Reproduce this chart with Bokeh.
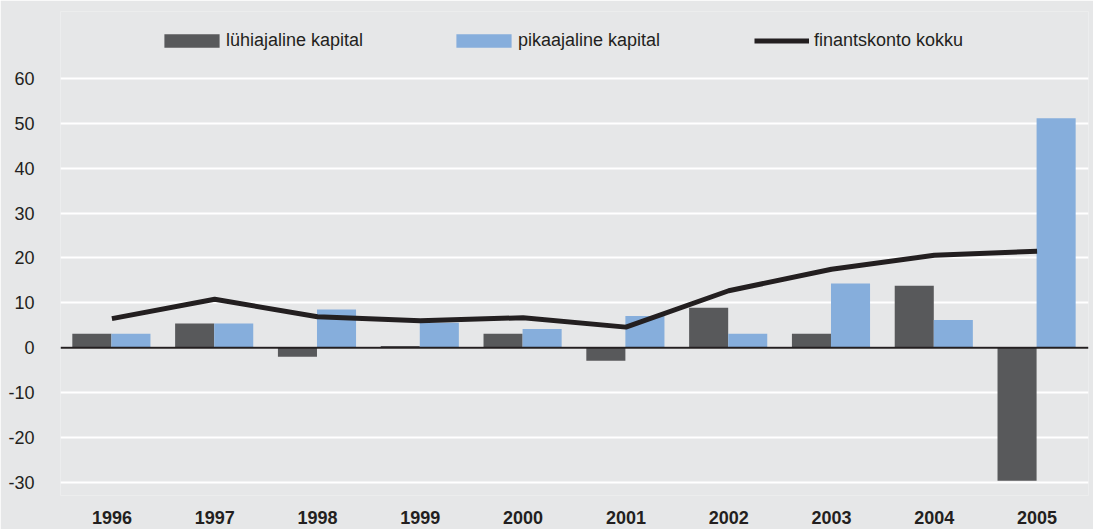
from bokeh.plotting import figure
from bokeh.models import ColumnDataSource, FactorRange, Range1d, FixedTicker, Span, Legend, LegendItem
from bokeh.transform import dodge
from bokeh.embed import file_html
from bokeh.resources import INLINE

years = ["1996", "1997", "1998", "1999", "2000", "2001", "2002", "2003", "2004", "2005"]
short_term = [3.1, 5.4, -2.0, 0.4, 3.1, -2.9, 8.9, 3.1, 13.8, -29.6]
long_term = [3.1, 5.4, 8.5, 5.6, 4.2, 7.1, 3.1, 14.3, 6.2, 51.1]
financial_total = [6.5, 10.8, 6.9, 6.0, 6.7, 4.6, 12.7, 17.5, 20.6, 21.5]
y_ticks = [-30, -20, -10, 0, 10, 20, 30, 40, 50, 60]
labels = ["lühiajaline kapital", "pikaajaline kapital", "finantskonto kokku"]

BG = "#e6e7e8"
DARK = "#58595b"
BLUE = "#86aedc"
INK = "#231f20"
FONT = "Liberation Sans"

src = ColumnDataSource(dict(year=years, short=short_term, long=long_term, total=financial_total))

p = figure(width=1093, height=529, x_range=FactorRange(factors=years),
           y_range=Range1d(-32.9, 74.9), output_backend="svg", toolbar_location=None,
           min_border_left=60, min_border_right=5, min_border_top=11, min_border_bottom=34)
p.x_range.range_padding = 0
p.background_fill_color = BG
p.border_fill_color = BG
p.outline_line_color = None

r1 = p.vbar(x=dodge("year", -0.195, range=p.x_range), top="short", width=0.38, source=src,
            fill_color=DARK, line_color=None)
r2 = p.vbar(x=dodge("year", 0.185, range=p.x_range), top="long", width=0.38, source=src,
            fill_color=BLUE, line_color=None)
r3 = p.line(x="year", y="total", source=src, line_color=INK, line_width=5)

p.add_layout(Span(location=0, dimension="width", line_color=INK, line_width=2))

p.yaxis.ticker = FixedTicker(ticks=y_ticks)
p.yaxis.major_label_overrides = {t: str(t) for t in y_ticks}
p.ygrid.ticker = FixedTicker(ticks=y_ticks)
p.ygrid.grid_line_color = "white"
p.ygrid.grid_line_width = 2
p.xgrid.grid_line_color = None

for ax in (p.xaxis[0], p.yaxis[0]):
    ax.axis_line_color = None
    ax.major_tick_line_color = None
    ax.minor_tick_line_color = None
    ax.major_label_text_font = FONT
    ax.major_label_text_font_size = "18px"
    ax.major_label_text_color = INK
p.yaxis.major_label_standoff = 20
p.xaxis.major_label_standoff = 9
p.xaxis.major_label_text_font_style = "bold"

common = dict(orientation="horizontal", padding=0, margin=0, spacing=0,
              label_text_font=FONT, label_text_font_size="18px", label_text_color=INK,
              border_line_color=None, background_fill_alpha=0)
p.add_layout(Legend(items=[LegendItem(label=labels[0], renderers=[r1])], location=(97, 444),
                    glyph_width=69, glyph_height=17, label_standoff=0, **common))
p.add_layout(Legend(items=[LegendItem(label=labels[1], renderers=[r2])], location=(389, 444),
                    glyph_width=69, glyph_height=17, label_standoff=0, **common))
p.add_layout(Legend(items=[LegendItem(label=labels[2], renderers=[r3])], location=(694, 444),
                    glyph_width=55, glyph_height=17, label_standoff=5, **common))

open("out.html", "w").write(file_html(p, INLINE))
